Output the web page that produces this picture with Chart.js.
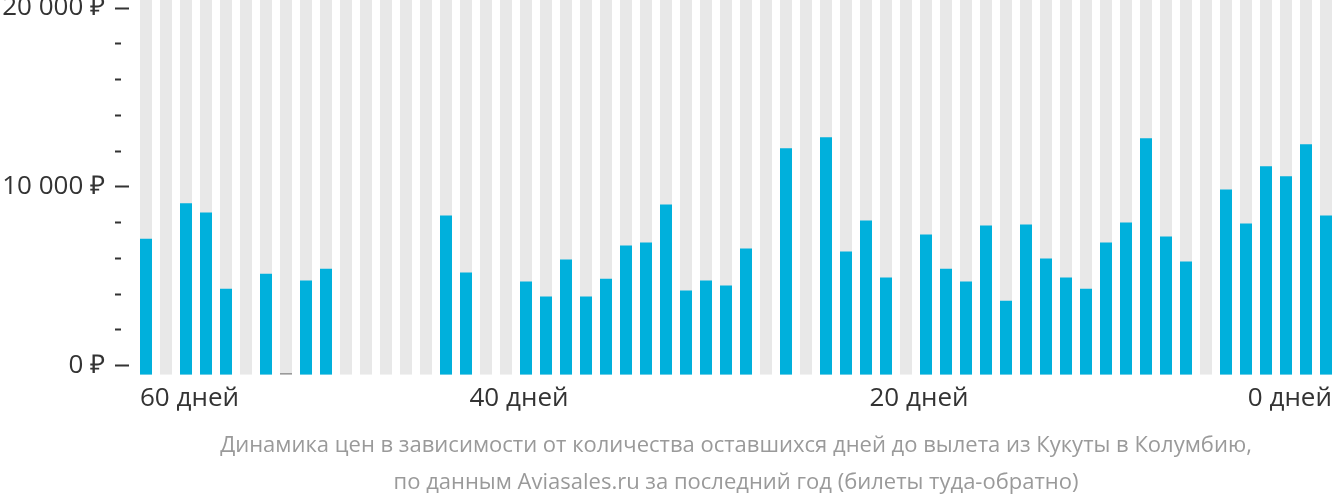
<!DOCTYPE html>
<html><head><meta charset="utf-8">
<script src="https://cdn.jsdelivr.net/npm/chart.js@4/dist/chart.umd.min.js"></script>
<style>html,body{margin:0;padding:0;background:#fff}#wrap{width:1332px;height:502px;position:relative}</style>
</head><body><div id="wrap"><canvas id="c"></canvas></div>
<script>
// Prices (₽) for each of the 60 day slots, left (far from departure) to right (departure)
const prices = [7100,null,9080,8570,4310,null,5150,null,4760,5430,
  null,null,null,null,null,8400,5210,null,null,4710,
  3870,5940,3870,4870,6720,6890,9020,4200,4760,4480,
  6550,null,12160,null,12770,6390,8120,4930,null,7340,
  5430,4710,7840,3640,7900,5990,4930,4310,6890,8010,
  12720,7230,5830,null,9860,7960,11150,10590,12380,8400];
// Small grey "no data" marks
const noDataMarks = [null,null,null,null,null,null,null,-400,null,null,
  null,null,null,null,null,null,null,null,null,null,
  null,null,null,null,null,null,null,null,null,null,
  null,null,null,null,null,null,null,null,null,null,
  null,null,null,null,null,null,null,null,null,null,
  null,null,null,null,null,null,null,null,null,null];
const dayTicks = [0, 20, 40, 60];
const yMajor = [0, 10000, 20000];
const yStep = 2000;
const captionLines = ['Динамика цен в зависимости от количества оставшихся дней до вылета из Кукуты в Колумбию,',
  'по данным Aviasales.ru за последний год (билеты туда-обратно)'];

const Y_MIN = -500, Y_MAX = 20450;
const X_MIN = -0.3, X_MAX = 59.3;
const D_MIN = -0.65, D_MAX = 58.95;
const FONT = 'Open Sans';

const bg = prices.map((_, i) => ({x: i, y: Y_MAX}));
const blue = prices.map((v, i) => ({x: i, y: v}));
const marks = noDataMarks.map((v, i) => ({x: i, y: v}));

const yTicks = [Y_MIN];
for (let v = 0; v <= 20000; v += yStep) yTicks.push(v);
yTicks.push(Y_MAX);
const isMajor = v => yMajor.includes(v);
const inRange = v => v >= 0 && v <= 20000;
const noPad = s => { s.paddingLeft = 0; s.paddingRight = 0; s.paddingTop = 0; s.paddingBottom = 0; };
// edge labels are pinned to the axis ends (left/right aligned), inner ones sit at their day
const dayTickPos = (d, i) => i === 0 ? D_MIN : (i === dayTicks.length - 1 ? D_MAX : d);

new Chart(document.getElementById('c'), {
  type: 'bar',
  data: {
    datasets: [
      {data: blue, backgroundColor: '#00b0dc', base: Y_MIN, grouped: false, order: 0, categoryPercentage: 1, barPercentage: 0.6},
      {data: marks, backgroundColor: '#9a9a9a', base: Y_MIN, grouped: false, order: 1, categoryPercentage: 1, barPercentage: 0.6},
      {data: bg, backgroundColor: '#e8e8e8', base: Y_MIN, grouped: false, order: 2, categoryPercentage: 1, barPercentage: 0.6}
    ]
  },
  options: {
    responsive: true, maintainAspectRatio: false, animation: false,
    layout: {padding: 0},
    plugins: {
      legend: {display: false}, tooltip: {enabled: false},
      title: {display: true, position: 'bottom', fullSize: false, text: captionLines,
        color: '#9a9a9a', font: {family: FONT, size: 22, weight: 'normal', lineHeight: 1.68},
        padding: {top: 4.9, bottom: 0.5}}
    },
    scales: {
      x: {type: 'linear', min: X_MIN, max: X_MAX, offset: false, display: false},
      xDays: {type: 'linear', position: 'bottom', reverse: true, min: D_MIN, max: D_MAX, offset: false,
        afterBuildTicks: s => { s.ticks = dayTicks.map((d, i) => ({value: dayTickPos(d, i)})); },
        afterFit: noPad,
        grid: {display: false, drawTicks: false, offset: false}, border: {display: false},
        ticks: {align: 'inner', padding: 8.4, maxRotation: 0, autoSkip: false, color: '#333',
          font: {family: FONT, size: 26}, callback: (v, i) => dayTicks[i] + ' дней'}
      },
      y: {min: Y_MIN, max: Y_MAX,
        afterBuildTicks: s => { s.ticks = yTicks.map(v => ({value: v})); },
        afterFit: s => { noPad(s); s.width = 140; },
        grid: {drawOnChartArea: false, drawTicks: true, tickLength: 35, tickWidth: 2,
          tickColor: ctx => inRange(ctx.tick.value) ? '#333' : 'rgba(0,0,0,0)',
          tickBorderDash: ctx => isMajor(ctx.tick.value) ? [0, 10, 14, 100] : [0, 10, 6, 100]},
        border: {display: false},
        ticks: {padding: 0, color: '#333', font: {family: FONT, size: 26},
          callback: v => isMajor(v) ? (v === 0 ? '0 ₽' : (v / 1000) + ' 000 ₽') : (inRange(v) ? '' : null)}
      }
    }
  }
});
</script></body></html>
